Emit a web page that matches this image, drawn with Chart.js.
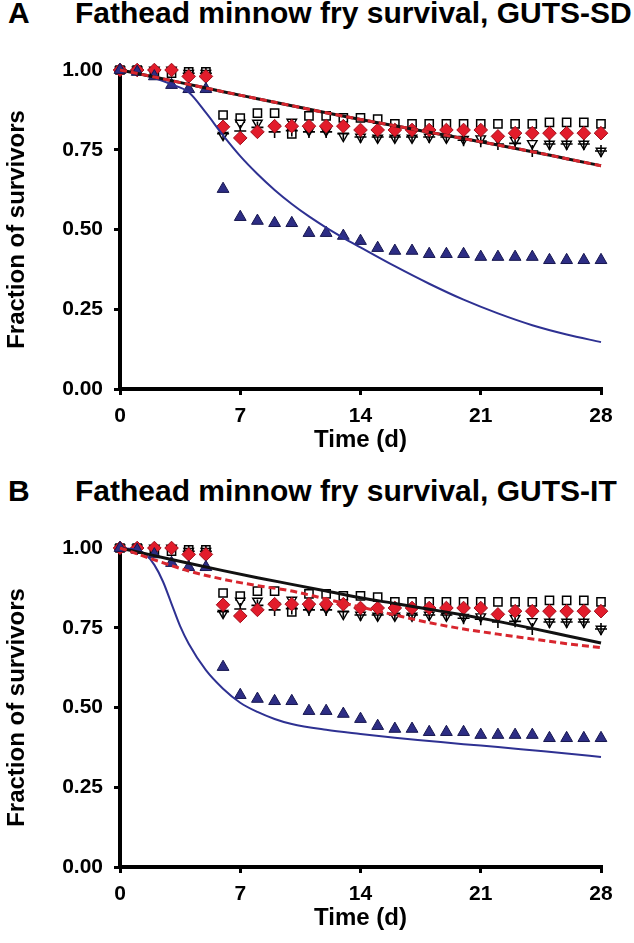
<!DOCTYPE html>
<html>
<head>
<meta charset="utf-8">
<script src="https://cdn.jsdelivr.net/npm/chart.js@4.4.0/dist/chart.umd.min.js"></script>
<style>
  html, body { margin:0; padding:0; background:#fff; }
  body { width:634px; height:943px; position:relative; overflow:hidden; font-family:"Liberation Sans", Arial, sans-serif; }
  .panel { position:absolute; left:0; width:634px; height:465px; }
  .ttl { position:absolute; font-weight:bold; font-size:30px; line-height:30px; color:#000; white-space:nowrap; }
</style>
</head>
<body>
<div class="ttl" style="left:8px; top:-2px;">A</div>
<div class="ttl" style="left:75px; top:-2px;">Fathead minnow fry survival, GUTS-SD</div>
<div class="panel" style="top:0px;"><canvas id="cA" width="634" height="465"></canvas></div>
<div class="ttl" style="left:8px; top:476px;">B</div>
<div class="ttl" style="left:75px; top:476px;">Fathead minnow fry survival, GUTS-IT</div>
<div class="panel" style="top:478px;"><canvas id="cB" width="634" height="465"></canvas></div>
<script>
// ---- observed data (days 0..28) ----
const days = [0,1,2,3,4,5,6,7,8,9,10,11,12,13,14,15,16,17,18,19,20,21,22,23,24,25,26,27,28];
const squares  = [1.00,1.00,0.99,0.99,0.994,0.994,0.859,0.849,0.865,0.865,0.800,0.856,0.856,0.850,0.850,0.846,0.831,0.831,0.831,0.831,0.831,0.831,0.831,0.831,0.831,0.836,0.836,0.836,0.831];
const diamonds = [1.00,1.00,1.00,1.00,0.980,0.980,0.822,0.787,0.806,0.824,0.824,0.824,0.824,0.824,0.812,0.812,0.812,0.812,0.812,0.812,0.812,0.812,0.792,0.802,0.802,0.802,0.802,0.802,0.802];
const downTri  = [1.00,1.00,1.00,1.00,0.990,0.990,0.796,0.834,0.834,0.820,0.837,0.810,0.810,0.793,0.790,0.787,0.787,0.787,0.790,0.787,0.783,0.785,0.785,0.780,0.770,0.768,0.768,0.768,0.746];
const plusPts  = [1.00,1.00,1.00,1.00,0.990,0.990,0.800,0.809,0.820,0.806,0.810,0.806,0.806,0.800,0.790,0.790,0.790,0.790,0.790,0.790,0.780,0.777,0.768,0.770,0.746,0.768,0.768,0.768,0.746];
const blueTri  = [1.00,0.994,0.98,0.953,0.940,0.940,0.627,0.539,0.527,0.520,0.520,0.489,0.489,0.480,0.464,0.442,0.433,0.433,0.423,0.423,0.423,0.414,0.414,0.414,0.414,0.404,0.404,0.404,0.404];

// ---- model fits ----
const fitDays = [0,2,4,6,8,10,12,14,16,18,20,22,24,26,28];
const sdBlack = [1.00,0.978,0.955,0.932,0.910,0.888,0.866,0.845,0.825,0.805,0.785,0.765,0.744,0.722,0.700];
const sdRed   = [1.00,0.978,0.955,0.932,0.910,0.888,0.866,0.845,0.825,0.805,0.785,0.765,0.744,0.722,0.700];
const sdBlueDays = [0,1,2,3,4,5,6,7,8,9,10,11,12,13,14,16,18,20,22,24,26,28];
const sdBlue     = [1.00,0.99,0.975,0.955,0.93,0.866,0.795,0.730,0.674,0.624,0.580,0.541,0.506,0.474,0.444,0.385,0.330,0.280,0.237,0.200,0.171,0.147];

const itBlack = [1.00,0.976,0.952,0.929,0.907,0.886,0.865,0.844,0.826,0.808,0.790,0.770,0.748,0.725,0.702];
const itRed   = [1.00,0.963,0.928,0.902,0.882,0.865,0.840,0.815,0.790,0.766,0.746,0.730,0.715,0.700,0.688];
const itBlueDays = [0,1,1.5,2,2.5,3,3.5,4,5,6,7,8,9,10,12,14,16,18,20,22,24,26,28];
const itBlue     = [1.00,0.994,0.98,0.947,0.895,0.825,0.755,0.700,0.617,0.559,0.515,0.486,0.464,0.448,0.430,0.417,0.405,0.395,0.385,0.376,0.366,0.356,0.345];

const xTicks = [0,7,14,21,28];
const yTicks = [0,0.25,0.5,0.75,1.0];

const FONT = '"Liberation Sans", Arial, sans-serif';
const xy = (xs, ys) => xs.map((x, i) => ({x: x, y: ys[i]}));

function pts(label, ys, style, opts) {
  return Object.assign({
    type: 'scatter', label: label, data: xy(days, ys), pointStyle: style,
    showLine: false, clip: false
  }, opts);
}
function line(label, xs, ys, opts) {
  return Object.assign({
    type: 'line', label: label, data: xy(xs, ys), pointRadius: 0, showLine: true,
    cubicInterpolationMode: 'monotone', fill: false, clip: false
  }, opts);
}

function makeChart(id, black, red, blueXs, blue) {
  const datasets = [
    line('model red', fitDays, red, {borderColor: '#d8262e', borderWidth: 3, borderDash: [7, 4], order: 0}),
    line('model black', fitDays, black, {borderColor: '#111', borderWidth: 3, order: 1}),
    line('model blue', blueXs, blue, {borderColor: '#2e3192', borderWidth: 2, order: 2}),
    pts('high', blueTri, 'triangle', {pointRadius: 6.8, backgroundColor: '#2d2d84', borderColor: '#17174f', pointBorderWidth: 1, order: 3}),
    pts('diamonds', diamonds, 'rectRot', {pointRadius: 6.8, backgroundColor: '#e21c2b', borderColor: '#a0101c', pointBorderWidth: 1, order: 4}),
    pts('plus', plusPts, 'cross', {pointRadius: 6, backgroundColor: '#000', borderColor: '#000', pointBorderWidth: 1.6, order: 5}),
    pts('downtri', downTri, 'triangle', {pointRadius: 5.5, rotation: 180, backgroundColor: '#fff', borderColor: '#000', pointBorderWidth: 1.4, order: 6}),
    pts('control', squares, 'rect', {pointRadius: 5.8, backgroundColor: '#fff', borderColor: '#000', pointBorderWidth: 1.5, order: 7})
  ];
  return new Chart(document.getElementById(id), {
    type: 'scatter',
    data: {datasets: datasets},
    options: {
      responsive: false, animation: false, devicePixelRatio: 1,
      layout: {padding: {left: 0, right: 33, top: 70, bottom: 0}},
      plugins: {legend: {display: false}, tooltip: {enabled: false}, title: {display: false}},
      scales: {
        x: {
          type: 'linear', min: 0, max: 28,
          afterFit: s => { s.height = 76; },
          afterBuildTicks: s => { s.ticks = xTicks.map(v => ({value: v})); },
          ticks: {color: '#000', font: {family: FONT, size: 21, weight: 'bold'}, padding: 9, maxRotation: 0},
          grid: {drawOnChartArea: false, drawTicks: true, tickLength: 6, lineWidth: 3, color: '#000'},
          border: {display: true, width: 4, color: '#000'},
          title: {display: true, text: 'Time (d)', color: '#000', font: {family: FONT, size: 24, weight: 'bold'}, padding: {top: 0, bottom: 10}}
        },
        y: {
          type: 'linear', min: 0, max: 1,
          afterFit: s => { s.width = 120; },
          afterBuildTicks: s => { s.ticks = yTicks.map(v => ({value: v})); },
          ticks: {color: '#000', font: {family: FONT, size: 21, weight: 'bold'}, padding: 11, callback: v => Number(v).toFixed(2)},
          grid: {drawOnChartArea: false, drawTicks: true, tickLength: 6, lineWidth: 3, color: '#000'},
          border: {display: true, width: 4, color: '#000'},
          title: {display: true, text: 'Fraction of survivors', color: '#000', font: {family: FONT, size: 24, weight: 'bold'}, padding: {top: 3, bottom: 0}}
        }
      }
    }
  });
}

makeChart('cA', sdBlack, sdRed, sdBlueDays, sdBlue);
makeChart('cB', itBlack, itRed, itBlueDays, itBlue);
</script>
</body>
</html>
